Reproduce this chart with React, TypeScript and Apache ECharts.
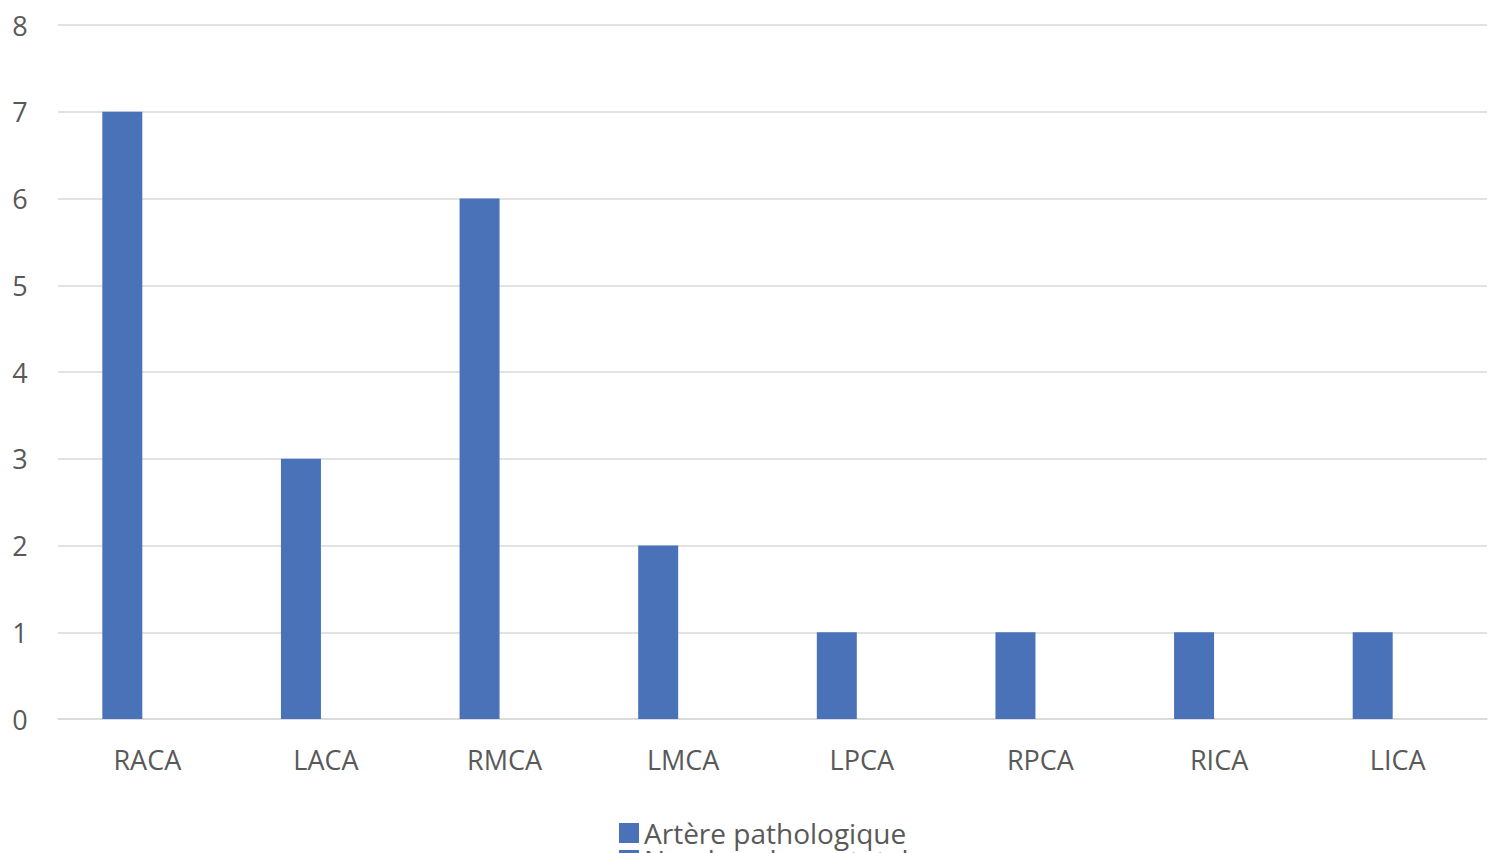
import React, { useEffect, useRef } from "react";
import * as echarts from "echarts";

const categories = ["RACA", "LACA", "RMCA", "LMCA", "LPCA", "RPCA", "RICA", "LICA"];
const pathologicValues = [7, 3, 6, 2, 1, 1, 1, 1];
const secondValues = [0, 0, 0, 0, 0, 0, 0, 0];
const seriesNames = ["Artère pathologique", "Nombre de cas total"];
const yTicks = { min: 0, max: 8, interval: 1 };

export default function App() {
  const ref = useRef<HTMLDivElement>(null);
  useEffect(() => {
    document.body.style.margin = "0";
    const chart = echarts.init(ref.current!, null, { renderer: "svg" });
    const font = "'Open Sans', 'Noto Sans', sans-serif";
    const legendText = { color: "#595959", fontSize: 28, fontFamily: font, padding: [0, 0, 0, 0] };
    chart.setOption({
      animation: false,
      backgroundColor: "#ffffff",
      grid: { left: 58, right: 13, top: 25, bottom: 134, containLabel: false },
      legend: [
        {
          left: 619,
          top: 819,
          padding: 0,
          itemWidth: 20,
          itemHeight: 20,
          icon: "rect",
          textStyle: legendText,
          data: [seriesNames[0]],
        },
        {
          left: 619,
          top: 846,
          padding: 0,
          itemWidth: 20,
          itemHeight: 20,
          icon: "rect",
          textStyle: legendText,
          data: [seriesNames[1]],
        },
      ],
      xAxis: {
        type: "category",
        data: categories,
        axisLine: { lineStyle: { color: "#d9d9d9", width: 1.5 } },
        axisTick: { show: false },
        axisLabel: { color: "#595959", fontSize: 27, fontFamily: font, margin: 27 },
      },
      yAxis: {
        type: "value",
        min: yTicks.min,
        max: yTicks.max,
        interval: yTicks.interval,
        axisLine: { show: false },
        axisTick: { show: false },
        splitLine: { lineStyle: { color: "#d9d9d9", width: 1.5 } },
        axisLabel: { color: "#595959", fontSize: 27, fontFamily: font, margin: 38, align: "center" },
      },
      series: [
        {
          name: seriesNames[0],
          type: "bar",
          data: pathologicValues,
          barWidth: 40,
          barGap: "25%",
          itemStyle: { color: "#4a72b8" },
        },
        {
          name: seriesNames[1],
          type: "bar",
          data: secondValues,
          barWidth: 40,
          itemStyle: { color: "#4a72b8" },
        },
      ],
    });
    return () => chart.dispose();
  }, []);
  return <div ref={ref} style={{ position: "absolute", left: 0, top: 0, width: 1500, height: 853 }} />;
}
